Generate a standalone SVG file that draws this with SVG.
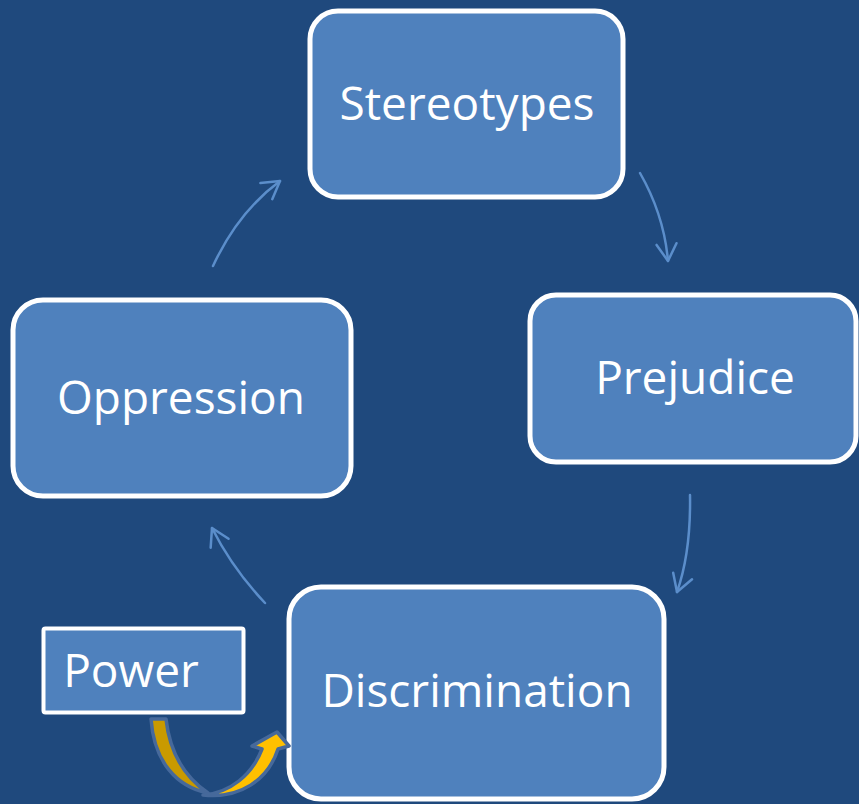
<svg xmlns="http://www.w3.org/2000/svg" width="859" height="804" viewBox="0 0 859 804">
<defs>
<style>
.box{fill:#4F81BD;stroke:#FFFFFF;stroke-width:5}
.lbl{font-family:"Open Sans","Liberation Sans",sans-serif;font-size:46px;fill:#FFFFFF;text-anchor:middle}
.con{fill:none;stroke:#5B8ECB;stroke-width:2.5;stroke-linecap:round}
</style>
<marker id="ah" markerUnits="userSpaceOnUse" markerWidth="30" markerHeight="30" viewBox="-20 -15 25 30" refX="0" refY="0" orient="auto">
<path d="M-17,-10 L0,0 L-17,10" fill="none" stroke="#5B8ECB" stroke-width="2.5" stroke-linecap="round" stroke-linejoin="round"/>
</marker>
</defs>
<rect width="859" height="804" fill="#1F497D"/>
<g id="connectors">
<path class="con" d="M213,266 Q238,212 280,181" marker-end="url(#ah)"/>
<path class="con" d="M640,173 Q664,215 668,261" marker-end="url(#ah)"/>
<path class="con" d="M690,495 Q691,552 677,592" marker-end="url(#ah)"/>
<path class="con" d="M265,603 Q232,568 212,528" marker-end="url(#ah)"/>
</g>
<g id="stereotypes">
<rect class="box" x="310" y="11" width="313" height="186" rx="28"/>
<text class="lbl" x="467" y="120">Stereotypes</text>
</g>
<g id="prejudice">
<rect class="box" x="530" y="295" width="326" height="167" rx="26"/>
<text class="lbl" x="695" y="394">Prejudice</text>
</g>
<g id="oppression">
<rect class="box" x="13" y="300" width="338" height="196" rx="30"/>
<text class="lbl" x="181" y="414">Oppression</text>
</g>
<g id="discrimination">
<rect class="box" x="289" y="587" width="375" height="212" rx="32"/>
<text class="lbl" x="477" y="707">Discrimination</text>
</g>
<g id="power">
<rect x="43.5" y="628.5" width="200" height="84" rx="2" fill="#4F81BD" stroke="#FFFFFF" stroke-width="4"/>
<text class="lbl" x="131" y="687">Power</text>
</g>
<g id="power-arrow">
<path d="M151,719 L166,719 C170,755 186,778 208,793 C177,787 154,762 151,719 Z" fill="#C99A00" stroke="#46699B" stroke-width="3.5" stroke-linejoin="round"/>
<path d="M203,795 C230,793 252,775 262,749 L252,746 L277,732 L289,746 L278,749 C268,780 240,799 203,795 Z" fill="#FFC000" stroke="#46699B" stroke-width="3.5" stroke-linejoin="round"/>
</g>
</svg>
